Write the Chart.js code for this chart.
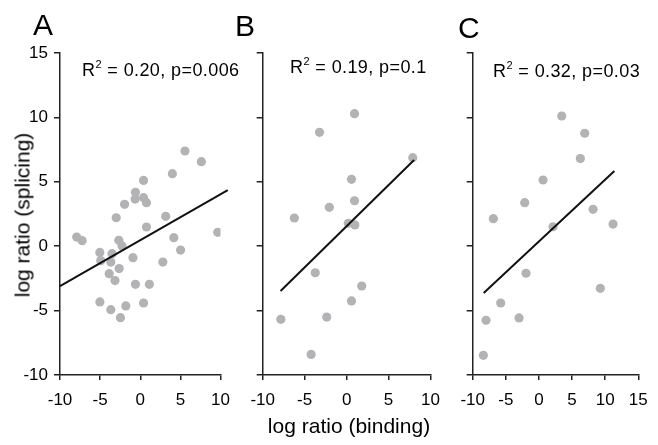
<!DOCTYPE html>
<html>
<head>
<meta charset="utf-8">
<script src="https://cdn.jsdelivr.net/npm/chart.js@4/dist/chart.umd.min.js"></script>
<style>
  body { margin:0; background:#fff; }
  #wrap { position:relative; width:658px; height:445px; overflow:hidden; font-family:'Liberation Sans', Arial, sans-serif; color:#000; }
  canvas { position:absolute; top:0; }
  .txt { position:absolute; white-space:nowrap; line-height:1; }
  .ann { font-size:18px; letter-spacing:0.4px; }
  .sup { font-size:11px; position:relative; top:-8px; }
</style>
</head>
<body>
<div id="wrap">
  <canvas id="cA" width="240" height="445" style="left:0"></canvas>
  <canvas id="cB" width="210" height="445" style="left:240px"></canvas>
  <canvas id="cC" width="208" height="445" style="left:450px"></canvas>

  <div class="txt" style="left:33px;top:10px;font-size:30px">A</div>
  <div class="txt" style="left:235px;top:11px;font-size:30px">B</div>
  <div class="txt" style="left:458px;top:13px;font-size:30px">C</div>

  <div class="txt ann" style="left:82px;top:61px">R<span class="sup">2</span> = 0.20, p=0.006</div>
  <div class="txt ann" style="left:290px;top:58px">R<span class="sup">2</span> = 0.19, p=0.1</div>
  <div class="txt ann" style="left:493px;top:62px">R<span class="sup">2</span> = 0.32, p=0.03</div>

  <div class="txt" style="left:349px;top:415px;font-size:21px;transform:translateX(-50%)">log ratio (binding)</div>
  <div class="txt" style="left:22px;top:215px;font-size:21px;transform:translate(-50%,-50%) rotate(-90deg)">log ratio (splicing)</div>
</div>

<script>
// panel A
const ax = [5.57, 7.61, 4.0, 0.41, -0.6, -0.64, 0.41, 0.77, -1.96, -3.0, 3.17, 0.77, 9.65, -7.92, -7.24, -2.67, -2.27, 4.18, 5.02, -5.04, -3.52, -4.92, -3.67, -0.91, 2.81, -2.63, -3.87, -3.15, -0.6, 1.13, -5.03, 0.41, -1.8, -3.67, -2.47];
const ay = [7.39, 6.56, 5.63, 5.11, 4.18, 3.66, 3.77, 3.38, 3.25, 2.21, 2.32, 1.49, 1.08, 0.71, 0.43, 0.46, 0.02, 0.66, -0.30, -0.48, -0.58, -1.12, -1.23, -0.89, -1.23, -1.74, -2.13, -2.67, -2.96, -2.96, -4.33, -4.41, -4.64, -4.93, -5.55];
const fitAx = [-10, 10.9], fitAy = [-3.1, 4.36];

// panel B
const bx = [0.94, -3.23, 7.88, 0.58, 0.94, -2.06, -6.23, 0.2, 0.98, -3.74, 1.8, 0.58, -7.84, -2.37, -4.23];
const by = [10.29, 8.84, 6.87, 5.19, 3.53, 3.02, 2.19, 1.78, 1.65, -2.06, -3.09, -4.25, -5.68, -5.5, -8.4];
const fitBx = [-7.87, 8.04], fitBy = [-3.48, 6.69];

// panel C
const cx = [3.44, 6.91, 6.25, 0.62, -2.15, -6.88, 8.17, 11.19, 2.13, -1.95, 9.27, -5.77, -7.99, -3.0, -8.39];
const cy = [10.11, 8.77, 6.8, 5.14, 3.38, 2.14, 2.86, 1.72, 1.51, -2.1, -3.27, -4.41, -5.75, -5.57, -8.47];
const fitCx = [-8.34, 11.39], fitCy = [-3.63, 5.84];

const yTicks = [-10, -5, 0, 5, 10, 15];
const xTicksAB = [-10, -5, 0, 5, 10];
const xTicksC = [-10, -5, 0, 5, 10, 15];

Chart.defaults.font.family = "'Liberation Sans', Arial, sans-serif";
Chart.defaults.color = '#000';

function pts(xs, ys){ return xs.map((x,i)=>({x:x, y:ys[i]})); }

function axisLook(){
  return {
    border: { display:true, color:'#222', width:1.5 },
    grid: { display:true, drawOnChartArea:false, drawTicks:true, color:'#222', lineWidth:1.5 }
  };
}

function makePanel(id, xs, ys, fx, fy, xTicks, opts){
  const c = document.getElementById(id);
  const xs_ = axisLook(), ys_ = axisLook();
  xs_.grid.tickLength = 5; ys_.grid.tickLength = 6;
  return new Chart(c.getContext('2d'), {
    type: 'scatter',
    data: { datasets: [
      { data: pts(fx, fy), showLine:true, borderColor:'#111', borderWidth:2, pointRadius:0, clip:false },
      { data: pts(xs, ys), backgroundColor:'#b3b3b5', borderWidth:0, pointRadius:4.6, pointHoverRadius:4.6 }
    ]},
    options: {
      responsive:false, animation:false, devicePixelRatio:1,
      layout: { padding: { left:0, right:opts.padRight, top:53, bottom:0 } },
      plugins: { legend:{display:false}, tooltip:{enabled:false} },
      scales: {
        x: Object.assign(xs_, {
          type:'linear', min:xTicks[0], max:xTicks[xTicks.length-1],
          afterBuildTicks: s => { s.ticks = xTicks.map(v=>({value:v})); },
          ticks: { font:{size:17}, padding:10, maxRotation:0 },
          afterFit: s => { s.height = 70; }
        }),
        y: Object.assign(ys_, {
          type:'linear', min:yTicks[0], max:yTicks[yTicks.length-1],
          afterBuildTicks: s => { s.ticks = yTicks.map(v=>({value:v})); },
          ticks: { font:{size:17}, padding:6, display:opts.yLabels },
          afterFit: s => { s.width = opts.yWidth; }
        })
      }
    }
  });
}

makePanel('cA', ax, ay, fitAx, fitAy, xTicksAB, { padRight:13.3, yWidth:60, yLabels:true });
makePanel('cB', bx, by, fitBx, fitBy, xTicksAB, { padRight:16.3, yWidth:22.7, yLabels:false });
makePanel('cC', cx, cy, fitCx, fitCy, xTicksC, { padRight:19.7, yWidth:22.7, yLabels:false });
</script>
</body>
</html>
